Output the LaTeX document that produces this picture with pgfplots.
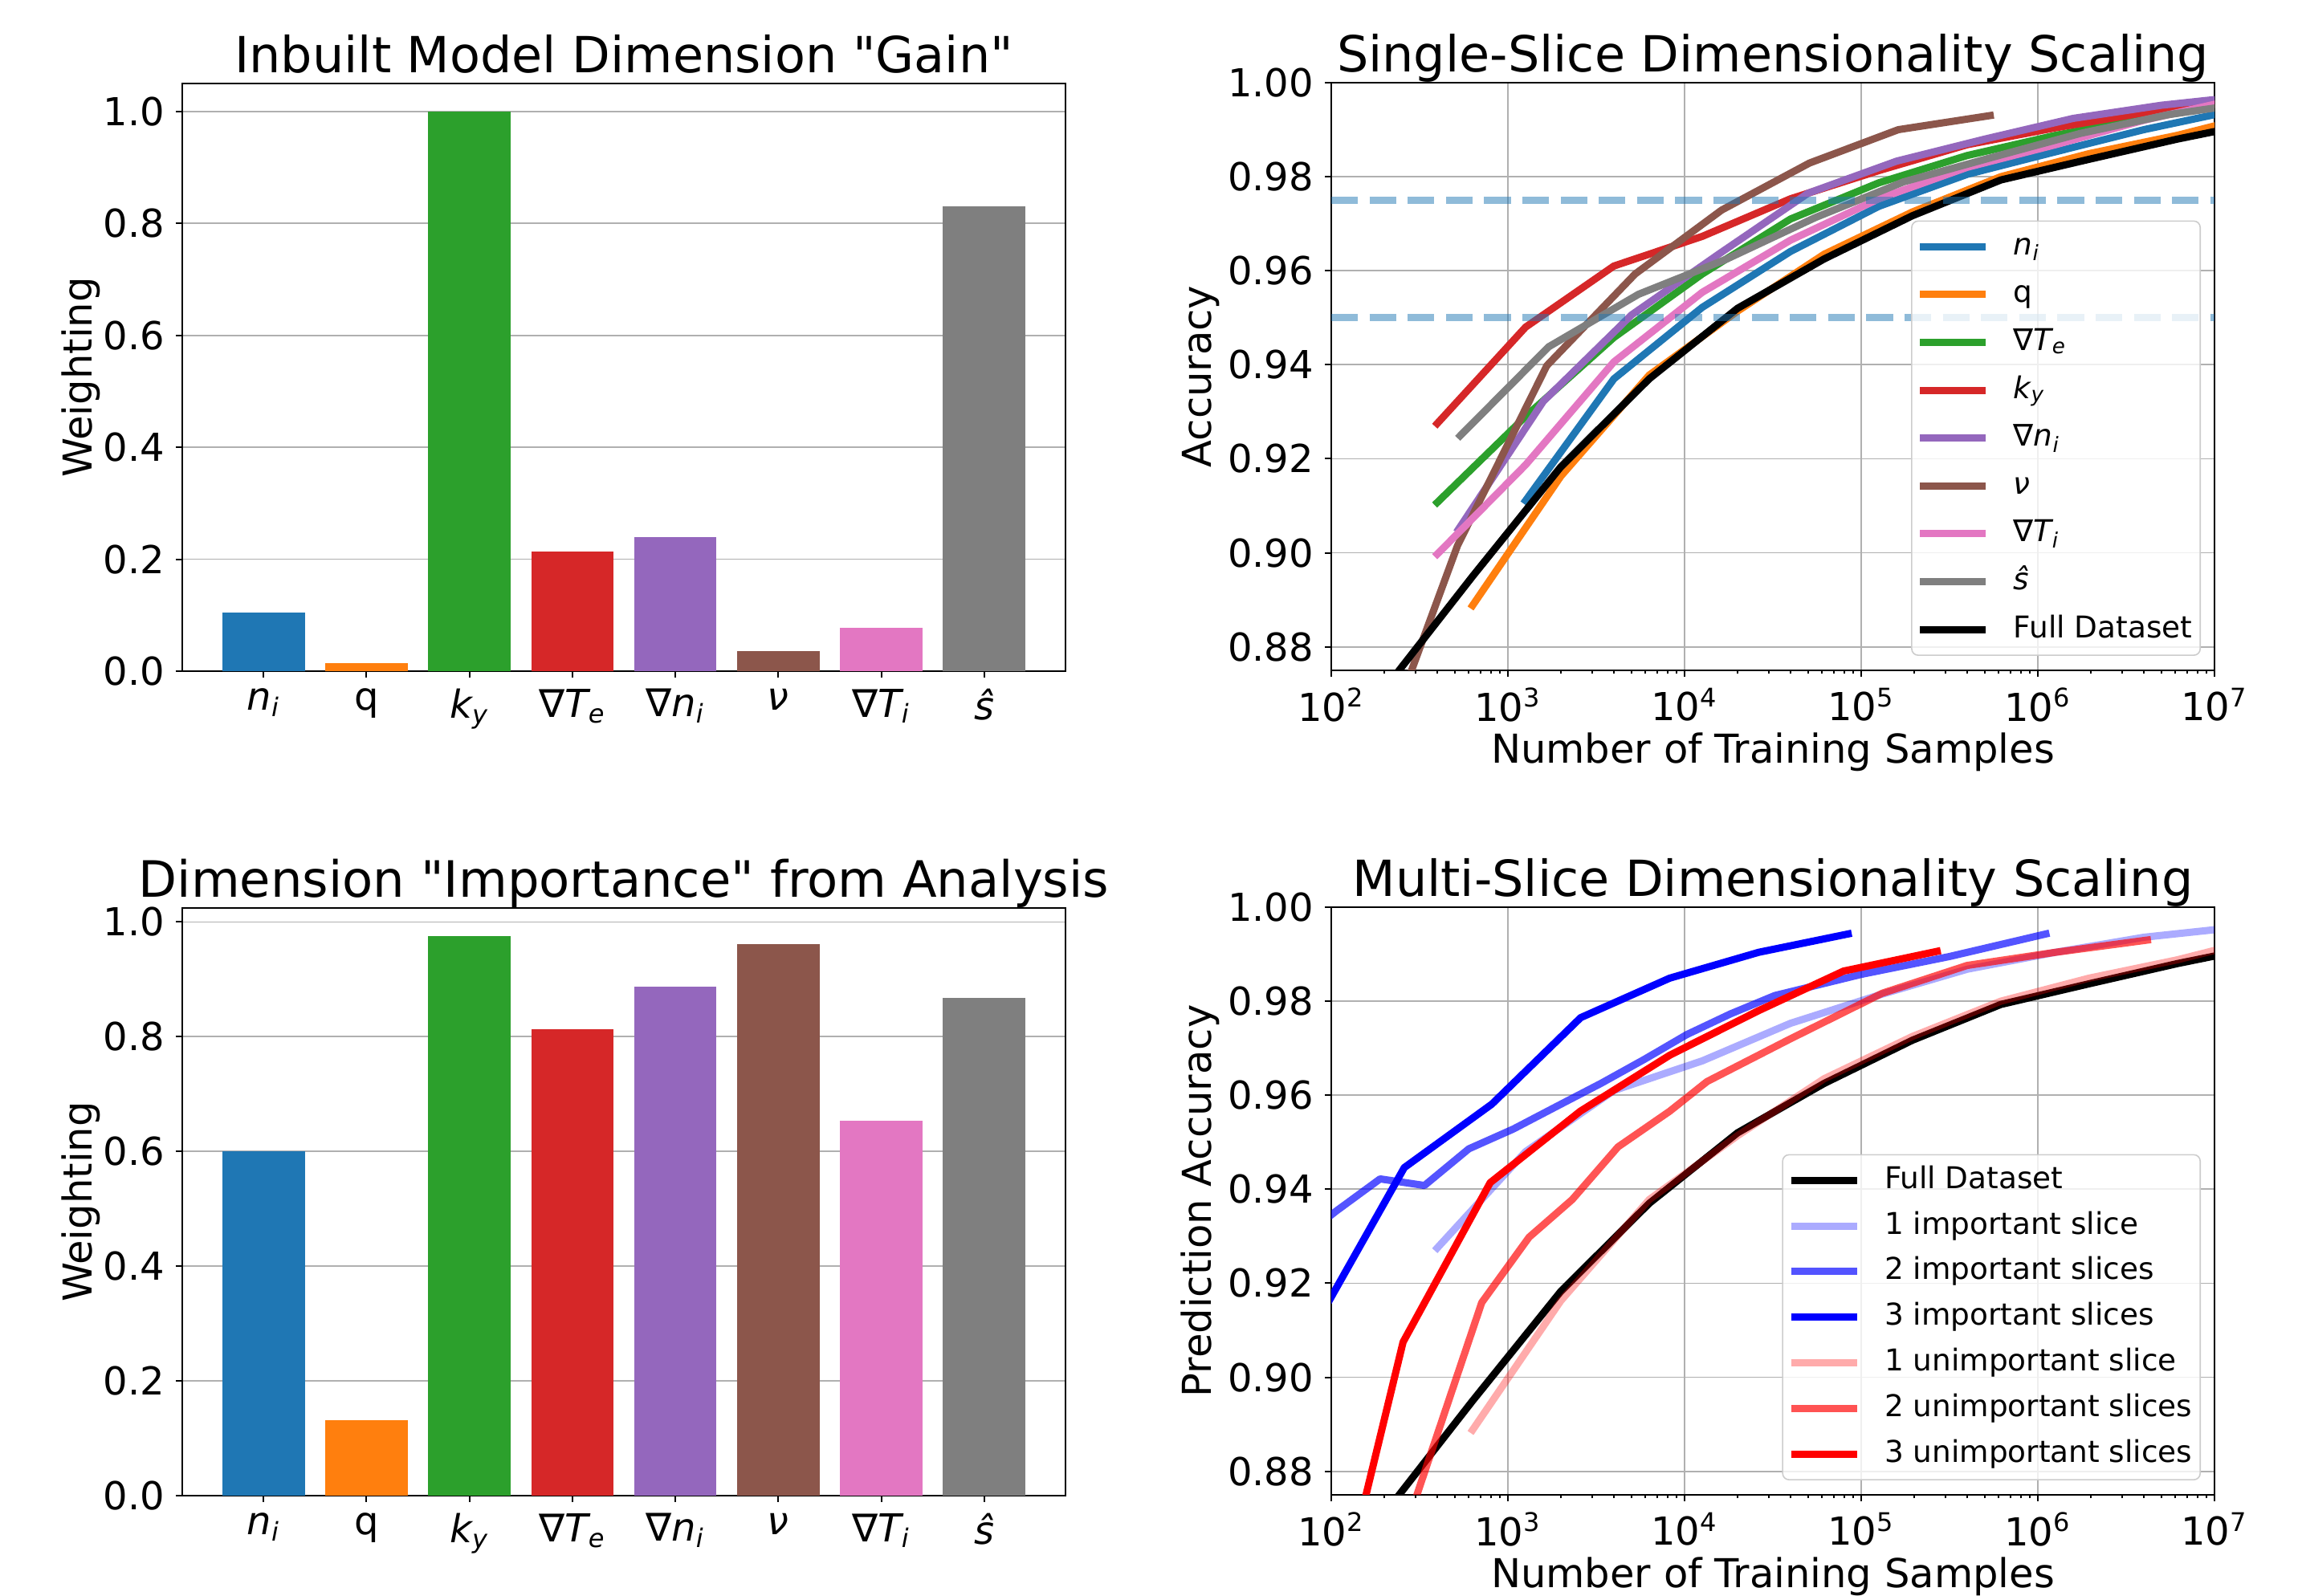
\documentclass[border=0pt]{standalone}
\usepackage{fontspec}
\setmainfont{DejaVu Sans}
\newfontfamily\plainfont{DejaVu Sans}
\usepackage{pgfplots}
\pgfplotsset{compat=1.18}

\definecolor{tabblue}{HTML}{1F77B4}
\definecolor{taborange}{HTML}{FF7F0E}
\definecolor{tabgreen}{HTML}{2CA02C}
\definecolor{tabred}{HTML}{D62728}
\definecolor{tabpurple}{HTML}{9467BD}
\definecolor{tabbrown}{HTML}{8C564B}
\definecolor{tabpink}{HTML}{E377C2}
\definecolor{tabgray}{HTML}{7F7F7F}

% straight double quote, without the TeX ligature mapping
\newcommand{\qq}{{\plainfont\char34}}
\newcommand{\sub}[1]{\textsubscript{\itshape #1}}

\pgfplotsset{
  mpl/.style={
    scale only axis, width=275pt, height=183pt,
    axis line style={line width=0.5pt},
    tick style={line width=0.5pt, black},
    tick align=outside,
    major tick length=2pt, minor tick length=1.1pt,
    xtick pos=left, ytick pos=left,
    grid style={line width=0.45pt, black!31},
    tick label style={font=\fontsize{12}{14}\selectfont},
    label style={font=\fontsize{12.4}{14}\selectfont},
    title style={font=\fontsize{15.5}{18}\selectfont, at={(0.5,1)}, anchor=base, yshift=-2.6pt},
    xlabel style={at={(axis description cs:0.5,0)}, anchor=base, yshift=-29pt},
  },
  barax/.style={
    mpl, xmin=-0.79, xmax=7.79, ymin=0,
    xtick={0,1,2,3,4,5,6,7},
    xticklabels={{\itshape n}\sub{i}, q, {\itshape k}\sub{y}, ∇{\itshape T}\sub{e},
      ∇{\itshape n}\sub{i}, {\itshape ν}, ∇{\itshape T}\sub{i}, {\itshape ŝ}},
    ytick={0,0.2,0.4,0.6,0.8,1.0},
    yticklabels={0.0,0.2,0.4,0.6,0.8,1.0},
    ymajorgrids,
    ylabel=Weighting,
    ylabel style={at={(axis description cs:-0.1027,0.5)}, anchor=base},
  },
  bar/.style={ybar, bar width=0.8, bar shift=0pt, draw=none, fill=#1},
  logax/.style={
    mpl, xmin=100, xmax=1e7, ymin=0.875, ymax=1.0,
    xtick={1e2,1e3,1e4,1e5,1e6,1e7},
    xticklabels={10\textsuperscript{2},10\textsuperscript{3},10\textsuperscript{4},
      10\textsuperscript{5},10\textsuperscript{6},10\textsuperscript{7}},
    minor xtick={200,300,400,500,600,700,800,900,
      2000,3000,4000,5000,6000,7000,8000,9000,
      20000,30000,40000,50000,60000,70000,80000,90000,
      200000,300000,400000,500000,600000,700000,800000,900000,
      2000000,3000000,4000000,5000000,6000000,7000000,8000000,9000000},
    ytick={0.88,0.90,0.92,0.94,0.96,0.98,1.00},
    yticklabels={0.88,0.90,0.92,0.94,0.96,0.98,1.00},
    xmajorgrids, ymajorgrids,
    xlabel={Number of Training Samples},
    ylabel style={at={(axis description cs:-0.1355,0.5)}, anchor=base},
    every axis plot/.append style={line width=2.25pt, line join=round, line cap=rect},
    legend cell align=left,
    legend image code/.code={\draw[##1, line cap=butt] (0pt,0pt) -- (20.5pt,0pt);},
    legend style={at={(1,0)}, anchor=south east, xshift=-4.25pt, yshift=4.5pt,
      font=\fontsize{9.35}{11}\selectfont, draw=black!20, rounded corners=2pt,
      fill=white, fill opacity=0.8, text opacity=1,
      inner xsep=1.5pt, inner ysep=2.2pt, row sep=2.6pt, column sep=6.5pt,
      nodes={inner sep=1pt, text height=7.3pt, text depth=2.3pt}},
  },
}

\begin{document}
\begin{tikzpicture}
\path[use as bounding box] (0,0) rectangle (715.5pt,497pt);

% ---- top left: gain
\begin{axis}[barax, at={(56.75pt,288pt)}, anchor=south west, ymax=1.05,
  title={Inbuilt Model Dimension \qq Gain\qq}]
\addplot[bar=tabblue] coordinates {(0,0.104)};
\addplot[bar=taborange] coordinates {(1,0.015)};
\addplot[bar=tabgreen] coordinates {(2,1.000)};
\addplot[bar=tabred] coordinates {(3,0.214)};
\addplot[bar=tabpurple] coordinates {(4,0.239)};
\addplot[bar=tabbrown] coordinates {(5,0.036)};
\addplot[bar=tabpink] coordinates {(6,0.078)};
\addplot[bar=tabgray] coordinates {(7,0.830)};
\end{axis}

% ---- bottom left: importance
\begin{axis}[barax, at={(56.75pt,31.25pt)}, anchor=south west, ymax=1.0245,
  title style={font=\fontsize{15.6}{18}\selectfont},
  title={Dimension \qq Importance\qq{} from Analysis}]
\addplot[bar=tabblue] coordinates {(0,0.600)};
\addplot[bar=taborange] coordinates {(1,0.132)};
\addplot[bar=tabgreen] coordinates {(2,0.976)};
\addplot[bar=tabred] coordinates {(3,0.813)};
\addplot[bar=tabpurple] coordinates {(4,0.887)};
\addplot[bar=tabbrown] coordinates {(5,0.962)};
\addplot[bar=tabpink] coordinates {(6,0.654)};
\addplot[bar=tabgray] coordinates {(7,0.868)};
\end{axis}

% ---- top right: single slice
\begin{axis}[xmode=log, logax, at={(414.5pt,288.25pt)}, anchor=south west,
  legend style={row sep=3.3pt},
  title={Single-Slice Dimensionality Scaling}, ylabel={Accuracy}]
\addplot[tabblue] coordinates {(1259,0.9111) (3981,0.937) (12590,0.9522) (39810,0.9641)
  (125900,0.9737) (398100,0.9805) (1259000,0.9853) (3981000,0.990) (10000000,0.9932)};
\addlegendentry{{\itshape n}\sub{i}}
\addplot[taborange] coordinates {(631,0.8888) (1995,0.9163) (6310,0.9378) (19950,0.9514)
  (61660,0.9635) (195000,0.9725) (616600,0.980) (1950000,0.9849) (6166000,0.9888) (10000000,0.9908)};
\addlegendentry{q}
\addplot[tabgreen] coordinates {(398,0.9107) (1259,0.929) (3981,0.9458) (12590,0.9593)
  (39810,0.971) (125900,0.9787) (398100,0.9845) (1259000,0.9888) (3981000,0.9924) (10000000,0.9948)};
\addlegendentry{∇{\itshape T}\sub{e}}
\addplot[tabred] coordinates {(398,0.9275) (1259,0.948) (3981,0.961) (12590,0.9673)
  (39810,0.9753) (125900,0.9813) (398100,0.9868) (1259000,0.9904) (3981000,0.9936) (10000000,0.9954)};
\addlegendentry{{\itshape k}\sub{y}}
\addplot[tabpurple] coordinates {(525,0.905) (1585,0.9322) (5012,0.9506) (15850,0.9637)
  (50120,0.9765) (158500,0.9833) (501200,0.988) (1585000,0.9924) (5012000,0.9952) (10000000,0.9964)};
\addlegendentry{∇{\itshape n}\sub{i}}
\addplot[tabbrown] coordinates {(162,0.850) (518,0.9015) (1660,0.9398) (5248,0.9593)
  (16220,0.9729) (50930,0.9829) (162200,0.990) (537000,0.993)};
\addlegendentry{{\itshape ν}}
\addplot[tabpink] coordinates {(398,0.8997) (1259,0.9187) (3981,0.9406) (12590,0.9554)
  (39810,0.9665) (125900,0.9753) (398100,0.982) (1259000,0.9868) (3981000,0.992) (10000000,0.9954)};
\addlegendentry{∇{\itshape T}\sub{i}}
\addplot[tabgray] coordinates {(537,0.9249) (1698,0.9438) (5495,0.955) (17380,0.9625)
  (54950,0.9713) (173800,0.9789) (549500,0.9841) (1738000,0.9892) (5495000,0.9932) (10000000,0.9946)};
\addlegendentry{{\itshape ŝ}}
\addplot[black] coordinates {(200,0.871) (631,0.895) (1995,0.9183) (6310,0.937) (19950,0.952)
  (61660,0.9625) (195000,0.9717) (616600,0.9793) (1950000,0.9837) (6166000,0.988) (10000000,0.9896)};
\addlegendentry{Full Dataset}
% thresholds
\addplot[tabblue, opacity=0.5, line cap=butt, dash pattern=on 8.3pt off 3.6pt, forget plot]
  coordinates {(100,0.975) (10000000,0.975)};
\addplot[tabblue, opacity=0.5, line cap=butt, dash pattern=on 8.3pt off 3.6pt, forget plot]
  coordinates {(100,0.95) (10000000,0.95)};
\end{axis}

% ---- bottom right: multi slice
\begin{axis}[xmode=log, logax, at={(414.5pt,31.5pt)}, anchor=south west,
  title={Multi-Slice Dimensionality Scaling}, ylabel={Prediction Accuracy}]
\addplot[black] coordinates {(200,0.871) (631,0.895) (1995,0.9183) (6310,0.937) (19950,0.952)
  (61660,0.9625) (195000,0.9717) (616600,0.9793) (1950000,0.9837) (6166000,0.988) (10000000,0.9896)};
\addlegendentry{Full Dataset}
\addplot[blue, opacity=0.33] coordinates {(398,0.9275) (1259,0.948) (3981,0.961) (12590,0.9673)
  (39810,0.9753) (125900,0.9813) (398100,0.9868) (1259000,0.9904) (3981000,0.9936) (10000000,0.9952)};
\addlegendentry{1 important slice}
\addplot[blue, opacity=0.67] coordinates {(60,0.928) (107,0.9354) (189,0.9422) (337,0.9408)
  (601,0.9486) (1072,0.9528) (1905,0.9577) (3357,0.9625) (5900,0.9676) (10300,0.9729)
  (18200,0.9773) (32400,0.9812) (100000,0.9857) (316000,0.9895) (1110000,0.9943)};
\addlegendentry{2 important slices}
\addplot[blue] coordinates {(81.3,0.9111) (259,0.9446) (811,0.9581) (2582,0.9765)
  (8241,0.9849) (26300,0.9904) (84300,0.9943)};
\addlegendentry{3 important slices}
\addplot[red, opacity=0.33] coordinates {(631,0.8888) (1995,0.9163) (6310,0.9378) (19950,0.9514)
  (61660,0.9635) (195000,0.9725) (616600,0.980) (1950000,0.9849) (6166000,0.9888) (10000000,0.9908)};
\addlegendentry{1 unimportant slice}
\addplot[red, opacity=0.67] coordinates {(224,0.860) (711,0.9159) (1318,0.9298) (2312,0.9378)
  (4198,0.949) (8241,0.9566) (13400,0.9629) (39800,0.972) (131800,0.9817) (398000,0.9876)
  (1259000,0.9904) (4169000,0.993)};
\addlegendentry{2 unimportant slices}
\addplot[red] coordinates {(79.4,0.829) (255,0.9075) (794,0.9414) (2570,0.9566)
  (8240,0.9685) (26300,0.978) (79400,0.9864) (269000,0.9906)};
\addlegendentry{3 unimportant slices}
\end{axis}
\end{tikzpicture}
\end{document}
